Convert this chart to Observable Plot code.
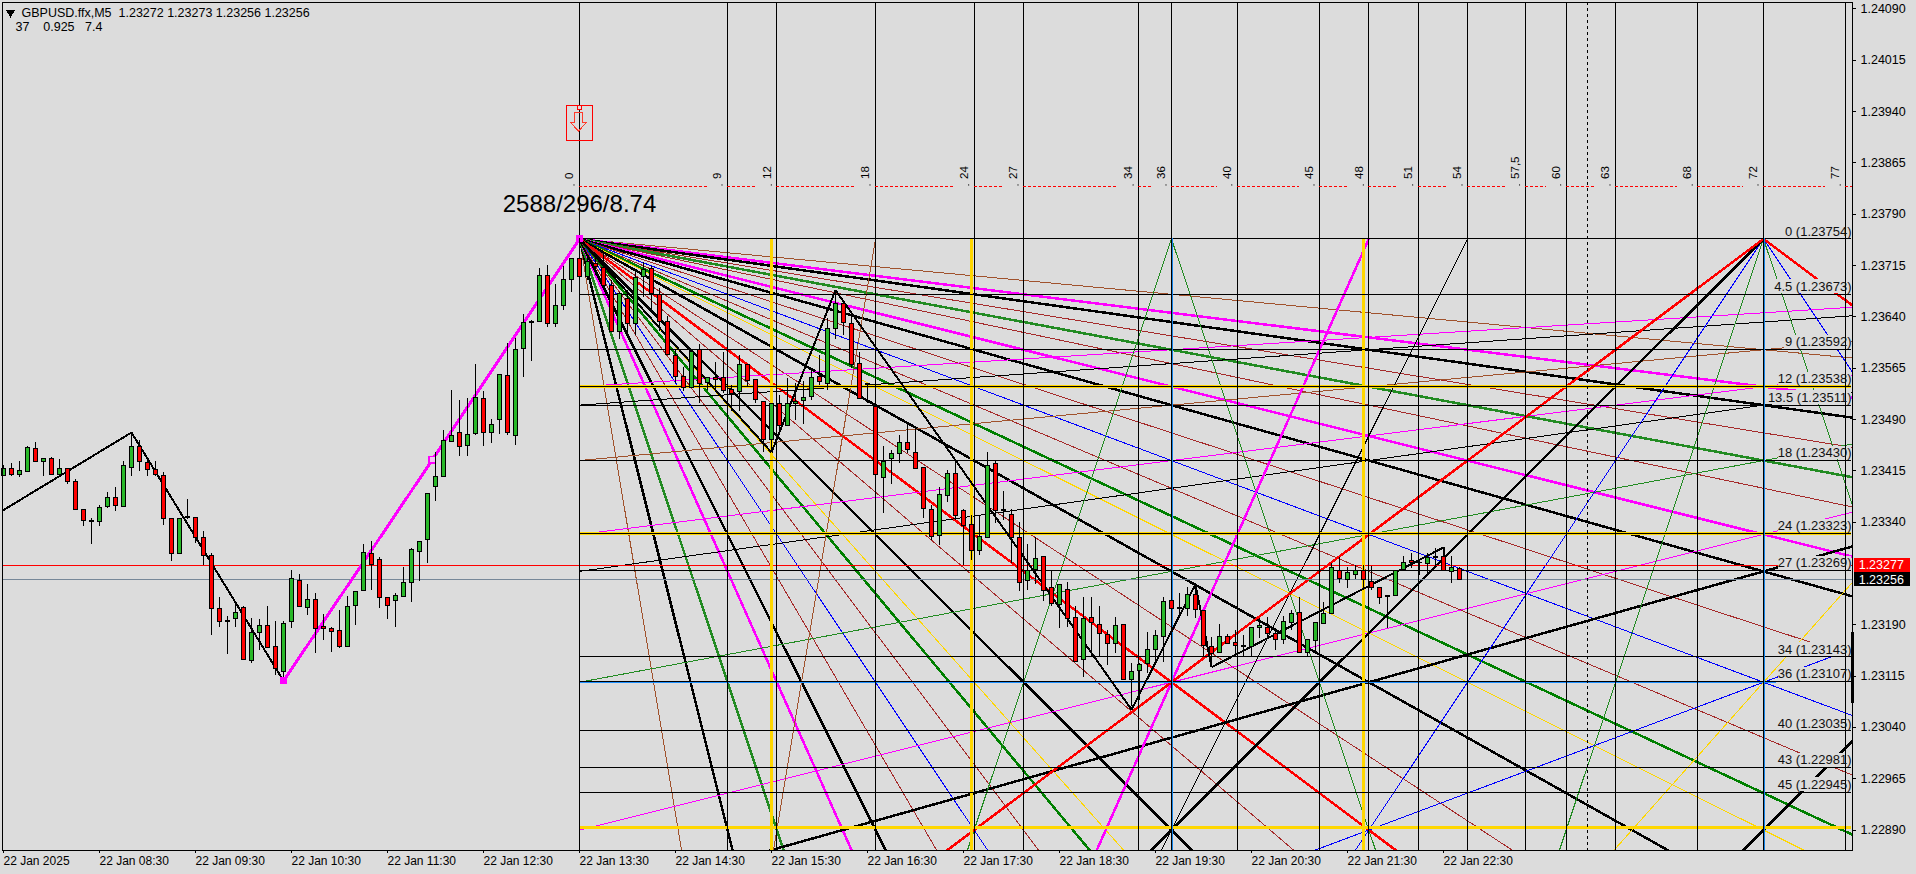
<!DOCTYPE html>
<html>
<head>
<meta charset="utf-8">
<script src="https://cdn.jsdelivr.net/npm/d3@7"></script>
<script src="https://cdn.jsdelivr.net/npm/@observablehq/plot@0.6"></script>
<style>
html,body{margin:0;padding:0;background:#dcdcdc;overflow:hidden}
svg{display:block}
svg path,svg line,svg rect{shape-rendering:crispEdges}
svg text{white-space:pre}
</style>
</head>
<body>
<div id="chart"></div>
<script>
// ---- candles, prices in 1/100000 ----
const opens=[123407,123418,123409,123414,123447,123428,123433,123409,123418,123399,123358,123341,123340,123362,123376,123362,123419,123450,123427,123416,123408,123345,123293,123347,123346,123317,123290,123213,123195,123198,123215,123137,123178,123188,123157,123121,123194,123254,123214,123226,123187,123184,123181,123158,123217,123240,123294,123285,123229,123225,123230,123251,123297,123314,123391,123406,123457,123471,123451,123469,123520,123471,123489,123554,123466,123593,123633,123632,123700,123630,123656,123694,123725,123698,123717,123712,123685,123618,123666,123630,123698,123710,123672,123632,123583,123552,123536,123592,123544,123550,123550,123533,123530,123570,123548,123515,123460,123513,123481,123512,123517,123523,123552,123542,123623,123659,123630,123571,123542,123509,123405,123432,123440,123455,123441,123419,123358,123320,123378,123411,123356,123336,123298,123317,123425,123358,123350,123317,123254,123270,123289,123244,123219,123241,123200,123138,123200,123190,123175,123162,123190,123109,123123,123133,123153,123172,123225,123214,123213,123233,123210,123157,123149,123172,123163,123159,123157,123186,123186,123177,123168,123192,123207,123149,123166,123191,123206,123268,123256,123263,123268,123253,123244,123232,123232,123270,123283,123281,123279,123289,123289,123267,123272];
const closes=[123418,123409,123415,123449,123428,123433,123409,123418,123398,123358,123342,123340,123361,123376,123364,123422,123450,123428,123416,123409,123345,123293,123345,123346,123317,123290,123213,123194,123194,123207,123138,123178,123188,123156,123126,123191,123257,123216,123226,123184,123184,123179,123158,123216,123238,123295,123278,123229,123217,123232,123251,123300,123311,123381,123406,123459,123466,123450,123468,123522,123471,123482,123555,123470,123592,123631,123631,123700,123630,123656,123694,123725,123698,123720,123713,123685,123618,123673,123630,123697,123709,123673,123632,123584,123552,123536,123588,123542,123550,123548,123532,123528,123570,123547,123518,123460,123513,123481,123513,123515,123522,123550,123545,123622,123659,123631,123570,123520,123541,123409,123428,123440,123455,123445,123418,123359,123319,123380,123411,123349,123334,123298,123319,123422,123357,123357,123317,123251,123268,123286,123240,123221,123248,123199,123135,123199,123192,123177,123162,123188,123109,123121,123131,123153,123174,123224,123213,123213,123234,123212,123159,123147,123172,123162,123159,123158,123186,123188,123177,123168,123194,123206,123149,123168,123192,123206,123273,123257,123265,123269,123255,123244,123229,123231,123268,123281,123280,123280,123288,123288,123269,123273,123256];
const highs=[123423,123425,123429,123451,123456,123433,123434,123431,123419,123402,123358,123346,123364,123384,123390,123428,123471,123460,123433,123428,123412,123345,123345,123373,123347,123327,123294,123230,123202,123223,123216,123199,123197,123217,123195,123195,123269,123263,123249,123236,123205,123186,123211,123231,123238,123308,123312,123289,123229,123235,123274,123301,123311,123381,123442,123474,123532,123518,123520,123571,123531,123490,123555,123601,123608,123644,123634,123711,123715,123687,123713,123725,123754,123725,123725,123733,123693,123676,123679,123709,123720,123713,123681,123640,123593,123566,123588,123600,123550,123573,123588,123540,123584,123571,123548,123515,123513,123525,123550,123542,123546,123562,123584,123637,123679,123660,123642,123588,123542,123510,123450,123445,123467,123484,123476,123420,123364,123391,123415,123430,123359,123350,123348,123442,123429,123385,123359,123340,123308,123318,123290,123268,123249,123252,123216,123230,123230,123217,123181,123200,123190,123133,123134,123178,123182,123230,123225,123236,123245,123249,123210,123172,123191,123176,123182,123174,123186,123199,123200,123182,123202,123211,123230,123168,123193,123223,123279,123288,123273,123277,123277,123275,123244,123232,123268,123290,123294,123284,123294,123301,123303,123290,123273];
const lows=[123407,123407,123405,123414,123428,123406,123408,123408,123395,123358,123334,123307,123334,123360,123356,123362,123407,123414,123406,123406,123335,123283,123292,123344,123309,123276,123174,123186,123146,123186,123138,123134,123152,123156,123116,123113,123184,123216,123204,123148,123167,123150,123156,123157,123189,123240,123240,123214,123198,123186,123230,123222,123253,123280,123370,123406,123457,123436,123436,123467,123451,123455,123468,123466,123452,123552,123575,123632,123625,123625,123650,123676,123689,123693,123700,123679,123617,123607,123616,123613,123668,123649,123618,123584,123543,123531,123536,123514,123532,123532,123528,123501,123501,123537,123513,123442,123445,123470,123481,123489,123483,123518,123540,123532,123607,123613,123564,123520,123513,123409,123352,123395,123425,123440,123418,123346,123313,123306,123369,123342,123277,123284,123291,123317,123338,123342,123279,123238,123240,123249,123224,123217,123184,123186,123135,123113,123143,123143,123130,123148,123109,123070,123079,123119,123133,123135,123211,123201,123202,123199,123144,123128,123149,123162,123143,123143,123143,123170,123168,123152,123161,123182,123149,123142,123149,123191,123206,123250,123243,123256,123240,123240,123219,123184,123232,123269,123272,123262,123260,123272,123269,123251,123256];

// ---- horizontal price axis, time axis ----
const priceTicks=[1.2409,1.24015,1.2394,1.23865,1.2379,1.23715,1.2364,1.23565,1.2349,1.23415,1.2334,1.2319,1.23115,1.2304,1.22965,1.2289];
const timeLabels=["22 Jan 2025","22 Jan 08:30","22 Jan 09:30","22 Jan 10:30","22 Jan 11:30","22 Jan 12:30","22 Jan 13:30","22 Jan 14:30","22 Jan 15:30","22 Jan 16:30","22 Jan 17:30","22 Jan 18:30","22 Jan 19:30","22 Jan 20:30","22 Jan 21:30","22 Jan 22:30"];
const barsPerLabel=12;

// ---- Gann grid ----
const originBar=72, originPrice=1.23754, barsPerDegree=148/72, pricePerLevel=0.00018;
const degreeLines=[0,9,12,18,24,27,34,36,40,45,48,51,54,57.5,60,63,68,72,77];
const levelNames=["0","4.5","9","12","13.5","18","24","27","34","36","40","43","45"];
const levelPrices=[1.23754,1.23673,1.23592,1.23538,1.23511,1.2343,1.23323,1.23269,1.23143,1.23107,1.23035,1.22981,1.22945];
const goldLevelPrices=[1.23538,1.23323,1.22893];
const blueLevelPrice=[1.23107];
const goldBars=[96,121,170];
const blueBars=[146,220];
const dashedBar=[198];
const degreeRowPrice=1.2383;
const askPrice=1.23277, bidPrice=1.23256;
const scrollPrices=[1.23179,1.23075];

// ---- fan rays ----
const shallowLevels=[9,12,13.5,15.75,18,20.25,24,27,31.5,36,40.5,45,48,54,63,72];
const shallowPens=["sienna","magentaW","blackW","brown","forestW","brown","magentaW","blackW","brown","blue","brown","greenW","gold","blackW","brown","redW"];
const steepDegrees=[9,13.5,18,24,27,31.5,36,40.5,45,48,54,63];
const steepPens=["sienna","blackW","forestW","magentaW","blackW","brown","blue","brown","greenW","gold","blackW","brown"];
const risingLevels=[6,6.75,9,12,13.5,18,24,27,36];
const risingPens=["magenta","black","sienna","magenta","black","forest","magenta","blackW","blue"];
const bounces=[
  {pen:"sienna",path:[[9,72],[18,0]]},
  {pen:"forest",path:[[18,72],[36,0],[54,72],[72,0],[90,72]]},
  {pen:"magentaW",path:[[24,72],[48,0]]},
  {pen:"black",path:[[27,72],[54,0]]},
  {pen:"blue",path:[[36,72],[72,0],[108,72]]},
  {pen:"gold",path:[[48,72],[96,0]]},
  {pen:"blackW",path:[[54,72],[108,0]]},
  {pen:"blackW",path:[[18,72],[72,0]]},
  {pen:"redW",path:[[0,72],[72,0],[144,72]]}
];
const pens={
  sienna:["#A0522D",1],brown:["#A52A2A",1],blue:["#0000FF",1],gold:["#FFD700",1],
  magenta:["#FF00FF",1],black:["#000000",1],forest:["#228B22",1],
  magentaW:["#FF00FF",2.5],blackW:["#000000",2.5],forestW:["#228B22",2.5],greenW:["#008000",2.5],redW:["#FF0000",2.5]
};

// ---- zigzags ----
const zigA=[[-0.1,1.23357],[16,1.23471],[35,1.23108]];
const zigMagenta=[[35,1.23108],[53.6,1.23431],[72,1.23754]];
const zigB=[[72,1.23754],[96,1.23442],[104,1.23679],[141,1.23066],[149,1.23249],[151,1.23128],[180,1.23303],[180,1.23287]];
const pivotBars=[[35,1.23108],[72,1.23754]];
const hollowPivot=[[53.6,1.23431]];
const arrowAt=[[72,1.23923]];

const BG="#dcdcdc", FONT="'Liberation Sans',Arial,sans-serif";
const GREEN="#29b829", RED="#ff0000";
const bar=t=>originBar+t*barsPerDegree;
const lev=L=>originPrice-L*pricePerLevel;
const seg=(t1,L1,t2,L2,pen)=>({x1:bar(t1),y1:lev(L1),x2:bar(t2),y2:lev(L2),stroke:pens[pen][0],w:pens[pen][1]});

const rays=[
  ...shallowLevels.map((L,k)=>seg(0,0,288,L*4,shallowPens[k])),
  ...steepDegrees.map((t,k)=>seg(0,0,t*2,144,steepPens[k])),
  ...risingLevels.map((L,k)=>seg(0,L*2,144,0,risingPens[k])),
  ...bounces.flatMap(b=>b.path.slice(1).map((p,k)=>seg(b.path[k][0],b.path[k][1],p[0],p[1],b.pen)))
];
const candles=opens.map((o,i)=>({i,o:o/1e5,c:closes[i]/1e5,h:highs[i]/1e5,l:lows[i]/1e5,up:closes[i]>o}));
const levels=levelNames.map((n,k)=>({n,p:levelPrices[k],label:`${n} (${levelPrices[k].toFixed(5)})`,w:(67+(n.length-1)*6.2)/8}));
const rightBar=231;
const degreeSegs=degreeLines.map((d,k)=>({x1:bar(d),x2:k+1<degreeLines.length?bar(degreeLines[k+1])-2.5:231.2}));
const links=(data,opts)=>Plot.link(data,{x1:d=>d[0][0],y1:d=>d[0][1],x2:d=>d[1][0],y2:d=>d[1][1],...opts});
const pairs=a=>a.slice(1).map((p,k)=>[a[k],p]);

const box=(fn)=>({draw(ctx){fn(ctx);}});
const flagBox=box(c=>{c.moveTo(-13,-17.5);c.lineTo(13,-17.5);c.lineTo(13,17.5);c.lineTo(-13,17.5);c.closePath();});
const flagPin=box(c=>{c.moveTo(-2,-2);c.lineTo(2,-2);c.lineTo(2,2);c.lineTo(-2,2);c.closePath();});
const flagArrow=box(c=>{c.moveTo(-5,-11);c.lineTo(3,-11);c.lineTo(3,-1);c.lineTo(7,-1);c.lineTo(-1,8);c.lineTo(-9,-1);c.lineTo(-5,-1);c.closePath();});

const chart=Plot.plot({
  width:1916,height:874,marginLeft:2,marginTop:2,marginRight:64,marginBottom:24,
  style:{background:BG,fontFamily:FONT,color:"#000",overflow:"visible"},
  x:{type:"linear",domain:[-0.125,231.125]},
  y:{type:"linear",domain:[1.228601,1.240995]},
  marks:[
    // fan
    Plot.link(rays,{x1:"x1",y1:"y1",x2:"x2",y2:"y2",stroke:d=>d.stroke,strokeWidth:d=>d.w,clip:true}),
    // current price lines
    Plot.ruleY([askPrice],{stroke:"#ff0000",strokeWidth:1}),
    Plot.ruleY([bidPrice],{stroke:"#778899",strokeWidth:1}),
    // label masks
    Plot.rect(levels,{x1:d=>rightBar-d.w,x2:rightBar,y1:d=>d.p+0.00001,y2:d=>d.p+0.000212,fill:BG}),
    // gold and blue grid
    Plot.ruleY(goldLevelPrices,{x1:originBar,x2:rightBar,stroke:"#FFD700",strokeWidth:3}),
    Plot.ruleX(goldBars,{y1:lev(0),y2:1.228601,stroke:"#FFD700",strokeWidth:3}),
    Plot.ruleY(blueLevelPrice,{x1:originBar,x2:221.6,dy:1,stroke:"#1E90FF",strokeWidth:1}),
    // black grid
    Plot.ruleY(levelPrices,{x1:originBar,x2:rightBar,stroke:"#000",strokeWidth:1}),
    Plot.ruleX(degreeLines.map(bar),{stroke:"#000",strokeWidth:1}),
    Plot.ruleX(blueBars,{y1:lev(0),y2:1.228601,dx:1,stroke:"#1484e8",strokeWidth:1}),
    Plot.ruleX(dashedBar,{stroke:"#000",strokeWidth:1,strokeDasharray:"3,3"}),
    Plot.ruleY(degreeSegs,{y:()=>degreeRowPrice,x1:"x1",x2:"x2",stroke:"#ff0000",strokeWidth:1,strokeDasharray:"3,2"}),
    // zigzags
    links(pairs(zigA),{stroke:"#000",strokeWidth:2,clip:true}),
    links(pairs(zigB),{stroke:"#000",strokeWidth:2,clip:true}),
    links(pairs(zigMagenta),{stroke:"#FF00FF",strokeWidth:3}),
    Plot.dot(pivotBars,{x:d=>d[0],y:d=>d[1],symbol:"square",r:4,fill:"#FF00FF"}),
    Plot.dot(hollowPivot,{x:d=>d[0],y:d=>d[1],symbol:"square",r:3.6,fill:"#f4c4f4",stroke:"#FF00FF",strokeWidth:1.5}),
    // candles
    Plot.ruleX(candles,{x:"i",y1:"l",y2:"h",stroke:"#000",strokeWidth:1}),
    Plot.rect(candles,{x1:d=>d.i-0.25,x2:d=>d.i+0.25,y1:"o",y2:"c",fill:d=>d.up?GREEN:RED,stroke:"#000",strokeWidth:1}),
    // sell arrow
    Plot.dot(arrowAt,{x:d=>d[0],y:d=>d[1],symbol:flagBox,fill:"none",stroke:"#ff0000",strokeWidth:1}),
    Plot.dot(arrowAt,{x:d=>d[0],y:d=>d[1],symbol:flagArrow,fill:"none",stroke:"#ff3a2a",strokeWidth:1}),
    Plot.dot(arrowAt,{x:d=>d[0],y:d=>d[1],dy:-15.5,symbol:flagPin,fill:BG,stroke:"#ff0000",strokeWidth:1}),
    // degree labels
    Plot.text(degreeLines,{x:bar,y:()=>degreeRowPrice,dx:-10,dy:-8,rotate:-90,textAnchor:"start",text:d=>String(d).replace(".",","),fontSize:11.5,fill:"#000"}),
    Plot.dot(degreeLines,{x:bar,y:()=>degreeRowPrice,dx:-5.5,dy:-2,r:0.6,fill:"#000"}),
    // level labels
    Plot.text(levels,{x:rightBar,y:"p",text:"label",textAnchor:"end",dy:-7.5,fontSize:13,fill:"#111"}),
    // big stats label
    Plot.text(["2588/296/8.74"],{x:()=>originBar,y:()=>originPrice,dx:0,dy:-34.5,fontSize:24,fill:"#000"}),
    // legend at top-left
    Plot.dot([0],{frameAnchor:"top-left",dx:8,dy:10,symbol:"triangle",r:3.4,rotate:180,fill:"#000"}),
    Plot.text(["GBPUSD.ffx,M5  1.23272 1.23273 1.23256 1.23256"],{frameAnchor:"top-left",dx:19,dy:10.7,lineAnchor:"middle",fontSize:12.5,textAnchor:"start",fill:"#000"}),
    Plot.text(["37    0.925   7.4"],{frameAnchor:"top-left",dx:13,dy:24,lineAnchor:"middle",fontSize:12.5,textAnchor:"start",fill:"#000"}),
    // frame + axes
    Plot.frame({stroke:"#000",strokeWidth:1}),
    Plot.ruleX([231.125],{y1:scrollPrices[0],y2:scrollPrices[1],stroke:"#000",strokeWidth:3}),
    Plot.axisY(priceTicks,{anchor:"right",label:null,tickSize:3,tickPadding:5,tickFormat:d=>d.toFixed(5),fontSize:12.5,fill:"#000",stroke:"#000"}),
    Plot.axisX(timeLabels.map((_,k)=>k*barsPerLabel),{anchor:"bottom",label:null,tickSize:3,tickPadding:3,textAnchor:"start",dx:0,tickFormat:i=>timeLabels[i/barsPerLabel],fontSize:12,fill:"#000",stroke:"#000"}),
    // current price badges
    Plot.rect([{p:askPrice,f:"#ff0000"},{p:bidPrice,f:"#000"}],{x1:()=>231.4,x2:()=>238.4,y1:d=>d.p-0.0001,y2:d=>d.p+0.0001,fill:"f"}),
    Plot.text([{p:askPrice},{p:bidPrice}],{x:()=>231.9,y:"p",text:d=>d.p.toFixed(5),textAnchor:"start",fontSize:12.5,fill:"#fff"})
  ]
});
document.getElementById("chart").append(chart);
</script>
</body>
</html>
